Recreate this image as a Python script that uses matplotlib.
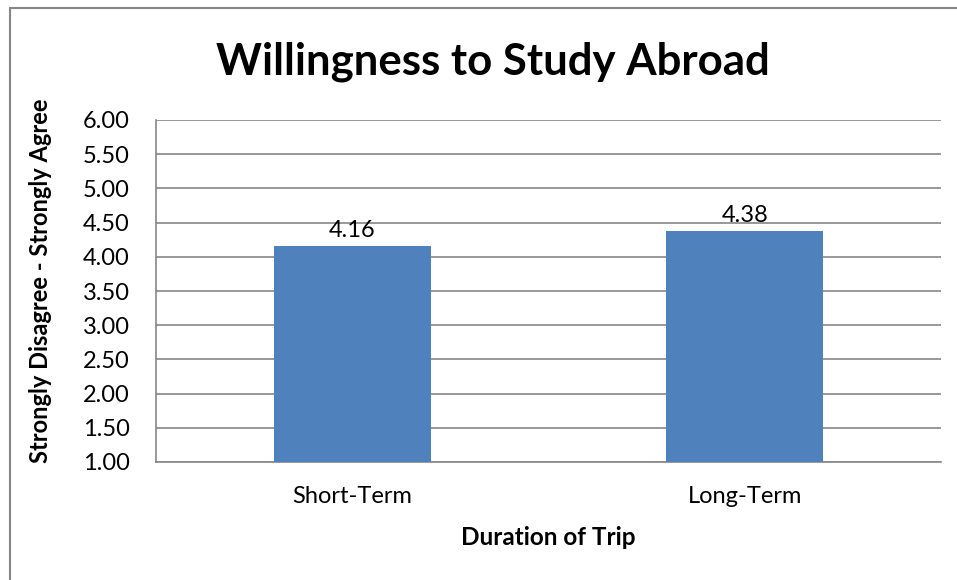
import matplotlib.pyplot as plt
from matplotlib.patches import Rectangle

categories = ['Short-Term', 'Long-Term']
values = [4.16, 4.38]
yticks = [1.0, 1.5, 2.0, 2.5, 3.0, 3.5, 4.0, 4.5, 5.0, 5.5, 6.0]

plt.rcParams['font.family'] = ['Lato', 'DejaVu Sans']

fig = plt.figure(figsize=(9.57, 5.80), dpi=100)
ax = fig.add_axes([156 / 957, 1 - 462 / 580, 785 / 957, 342 / 580])

# outer chart border
fig.patches.append(Rectangle((10 / 957, -0.05), 1.0, 1 - 8 / 580 + 0.05,
                             transform=fig.transFigure, fill=False,
                             edgecolor='#868686', linewidth=1.5))

x = range(len(categories))
ax.bar(x, values, width=0.4, color='#4F81BD', zorder=3)
for i, v in enumerate(values):
    ax.text(i, v + 0.07, f'{v:.2f}', ha='center', va='bottom', fontsize=17)

ax.set_xlim(-0.5, 1.5)
ax.set_ylim(1.0, 6.0)
ax.set_yticks(yticks)
ax.set_yticklabels([f'{t:.2f}' for t in yticks], fontsize=17)
ax.set_xticks(list(x))
ax.set_xticklabels(categories, fontsize=17)
ax.tick_params(axis='y', length=0, pad=19)
ax.tick_params(axis='x', length=0, pad=17)
ax.yaxis.grid(True, color='#868686', linewidth=1.2, zorder=0)
ax.set_axisbelow(True)

for s in ['top', 'right']:
    ax.spines[s].set_visible(False)
for s in ['left', 'bottom']:
    ax.spines[s].set_color('#868686')
    ax.spines[s].set_linewidth(1.2)

ax.set_xlabel('Duration of Trip', fontsize=17.5, fontweight='bold', labelpad=14)
ax.set_ylabel('Strongly Disagree - Strongly Agree', fontsize=17, fontweight='bold', labelpad=22)
ax.yaxis.label.set_y(0.53)
fig.text(493 / 957, 1 - 62 / 580, 'Willingness to Study Abroad', ha='center', va='center',
         fontsize=31.5, fontweight='bold')

plt.savefig('out.png', dpi=100)
